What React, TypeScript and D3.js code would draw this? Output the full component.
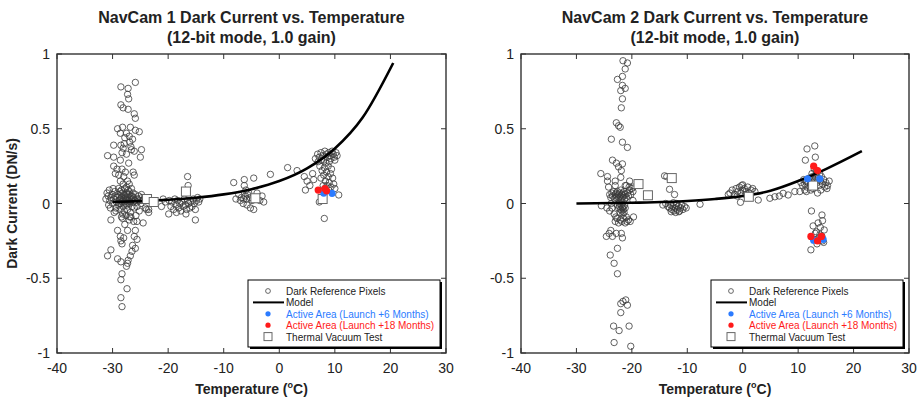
import React from "react";
import * as d3 from "d3";

// ---------- axis ticks ----------
const xTicks = [-40, -30, -20, -10, 0, 10, 20, 30];
const yTicks = [-1, -0.5, 0, 0.5, 1];
const yTickLabels = ["-1", "-0.5", "0", "0.5", "1"];

// ---------- titles ----------
const titles1 = ["NavCam 1 Dark Current vs. Temperature", "(12-bit mode, 1.0 gain)"];
const titles2 = ["NavCam 2 Dark Current vs. Temperature", "(12-bit mode, 1.0 gain)"];
const legendLabels = [
  "Dark Reference Pixels",
  "Model",
  "Active Area (Launch +6 Months)",
  "Active Area (Launch +18 Months)",
  "Thermal Vacuum Test",
];

// ---------- NavCam 1 data [temperature °C, DN/s] ----------
const cam1Dark: [number, number][] = [
  // upper tail near -28
  [-28.5, 0.78], [-25.9, 0.81], [-27.2, 0.77], [-27.3, 0.73], [-27.1, 0.7], [-28.5, 0.66], [-28.1, 0.64], [-27.2, 0.63],
  [-26.1, 0.6], [-25.9, 0.57], [-29.1, 0.5], [-28.2, 0.51], [-26.8, 0.51], [-25.9, 0.49], [-25.2, 0.48], [-28.6, 0.47],
  [-27.5, 0.47], [-27.8, 0.44], [-27.0, 0.45], [-26.4, 0.43], [-29.8, 0.39], [-28.5, 0.39], [-28.1, 0.37], [-26.7, 0.38],
  [-26.1, 0.35], [-24.8, 0.36], [-28.3, 0.34], [-27.5, 0.33], [-30.9, 0.32], [-29.8, 0.31], [-25.0, 0.31], [-28.6, 0.29],
  [-27.1, 0.27], [-29.8, 0.25], [-29.2, 0.23], [-28.3, 0.23], [-29.5, 0.2], [-28.9, 0.19], [-27.7, 0.21], [-26.3, 0.21],
  [-26.1, 0.19], [-28.0, 0.18], [-28.6, 0.15], [-27.3, 0.15], [-28.1, 0.13], [-27.0, 0.13], [-27.5, 0.11], [-26.6, 0.36],
  [-27.9, 0.4], [-26.9, 0.41],
  // dense center near -28
  [-31.0, 0.07], [-30.8, 0.05], [-30.6, 0.09], [-30.5, 0.02], [-30.3, 0.04], [-30.1, 0.06], [-30.0, 0.0], [-29.8, 0.03],
  [-29.6, 0.08], [-29.5, 0.05], [-29.3, 0.01], [-29.2, 0.04], [-29.0, 0.06], [-28.9, -0.01], [-28.8, 0.02], [-28.7, 0.05],
  [-28.6, 0.03], [-28.5, 0.0], [-28.4, 0.04], [-28.3, 0.07], [-28.2, 0.02], [-28.1, -0.02], [-28.0, 0.03], [-27.9, 0.01],
  [-27.8, 0.05], [-27.7, 0.0], [-27.6, 0.03], [-27.5, 0.02], [-27.4, -0.01], [-27.3, 0.04], [-27.2, 0.02], [-27.1, 0.06],
  [-27.0, 0.0], [-26.9, 0.03], [-26.8, 0.01], [-26.7, 0.05], [-26.6, 0.02], [-26.5, -0.02], [-26.4, 0.03], [-26.3, 0.01],
  [-26.2, 0.04], [-26.0, 0.02], [-25.9, 0.06], [-25.7, 0.01], [-25.5, 0.03], [-25.3, 0.05], [-25.1, 0.02], [-24.9, 0.0],
  [-24.7, 0.04], [-24.5, 0.02], [-28.4, 0.09], [-27.8, 0.1], [-27.2, 0.09], [-26.6, 0.1], [-28.9, 0.1], [-28.6, -0.04],
  [-27.9, -0.05], [-27.3, -0.04], [-26.8, -0.06], [-28.2, -0.07], [-29.4, -0.03], [-26.1, -0.03], [-25.6, -0.02], [-28.0, 0.06],
  [-27.5, 0.07], [-27.0, 0.08], [-26.3, 0.07], [-28.7, 0.08], [-29.9, 0.1], [-30.7, -0.01], [-31.2, 0.03], [-29.7, -0.06],
  [-28.4, -0.09], [-27.6, -0.08], [-26.9, -0.09], [-25.8, -0.08], [-24.8, 0.06], [-24.3, 0.03], [-25.2, -0.05], [-23.8, 0.02],
  [-24.1, -0.03], [-23.5, -0.04], [-28.3, 0.01], [-27.7, 0.04], [-27.1, 0.01], [-26.5, 0.05], [-28.8, 0.0], [-27.4, 0.06],
  // lower tail near -28
  [-30.4, -0.03], [-29.4, -0.05], [-30.3, -0.11], [-26.7, -0.09], [-25.6, -0.12], [-24.5, -0.13], [-26.2, -0.12], [-27.0, -0.11],
  [-28.2, -0.1], [-23.9, -0.04], [-23.5, -0.06], [-27.8, -0.14], [-29.1, -0.18], [-27.3, -0.18], [-25.9, -0.18], [-28.6, -0.22],
  [-28.0, -0.23], [-26.1, -0.22], [-25.6, -0.24], [-28.5, -0.25], [-28.3, -0.27], [-26.4, -0.28], [-25.9, -0.3], [-30.3, -0.31],
  [-30.9, -0.35], [-26.5, -0.32], [-26.8, -0.35], [-29.1, -0.37], [-28.5, -0.39], [-27.2, -0.38], [-27.3, -0.4], [-27.5, -0.42],
  [-28.3, -0.47], [-28.5, -0.51], [-27.4, -0.57], [-28.5, -0.63], [-28.3, -0.69],
  // cluster near -17
  [-19.8, 0.02], [-19.5, -0.02], [-19.3, 0.01], [-19.0, -0.04], [-18.8, 0.03], [-18.6, -0.01], [-18.3, 0.02], [-18.1, -0.03],
  [-17.9, 0.0], [-17.7, -0.05], [-17.5, 0.01], [-17.3, -0.02], [-17.1, 0.03], [-16.9, -0.01], [-16.7, -0.04], [-16.5, 0.02],
  [-16.3, 0.0], [-16.1, -0.03], [-15.9, 0.01], [-15.7, -0.02], [-15.5, 0.03], [-15.3, 0.0], [-15.1, -0.04], [-14.9, 0.02],
  [-14.7, 0.04], [-14.5, 0.01], [-14.3, 0.03], [-19.9, -0.07], [-18.5, -0.06], [-16.8, -0.07], [-16.5, 0.18], [-16.4, 0.12],
  [-15.1, -0.11], [-20.5, 0.01], [-21.2, -0.02], [-20.9, 0.03],
  // cluster near -6
  [-8.2, 0.14], [-6.3, 0.16], [-4.6, 0.17], [-6.3, 0.12], [-7.3, 0.06], [-5.5, 0.07], [-4.0, 0.07], [-3.1, 0.05],
  [-2.8, 0.01], [-6.5, 0.0], [-5.2, -0.03], [-4.6, -0.04], [-6.8, 0.04], [-6.1, 0.05], [-5.9, 0.03], [-5.7, 0.06],
  [-6.0, 0.09], [-5.3, 0.04], [-4.9, 0.02], [-6.4, 0.03], [-7.8, 0.03], [-5.8, -0.01], [-1.6, 0.195], [1.5, 0.24],
  [-3.5, 0.02], [-7.0, 0.02],
  // cluster near 8
  [6.5, 0.3], [6.9, 0.33], [7.2, 0.31], [7.5, 0.34], [7.8, 0.32], [8.0, 0.29], [8.2, 0.35], [8.5, 0.33],
  [8.7, 0.31], [8.9, 0.34], [9.1, 0.32], [9.3, 0.3], [9.5, 0.35], [9.7, 0.33], [9.9, 0.31], [10.2, 0.34],
  [10.4, 0.32], [7.0, 0.28], [8.4, 0.27], [9.0, 0.28], [7.6, 0.29], [10.0, 0.29], [7.3, 0.25], [8.1, 0.24],
  [8.8, 0.25], [9.4, 0.23], [7.7, 0.22], [8.5, 0.21], [9.2, 0.2], [8.0, 0.19], [8.8, 0.18], [9.6, 0.17],
  [7.5, 0.17], [8.3, 0.15], [9.0, 0.14], [9.8, 0.13], [8.6, 0.12], [7.9, 0.12], [9.3, 0.11], [8.2, 0.1],
  [10.0, 0.1], [8.9, 0.09], [10.7, 0.057], [8.1, -0.1], [7.2, 0.01], [4.7, 0.09], [5.0, 0.15], [4.5, 0.18],
  [3.2, 0.22], [6.0, 0.2], [6.2, 0.16], [5.5, 0.12],
];
const cam1Model: [number, number][] = [
  [-30, 0.01], [-25, 0.016], [-20, 0.025], [-15, 0.039], [-10, 0.061], [-5, 0.096], [0, 0.15], [5, 0.235], [10, 0.368], [15, 0.575], [20.5, 0.94],
];
const cam1Plus6: [number, number][] = [[8.0, 0.07], [9.5, 0.068]];
const cam1Plus18: [number, number][] = [[7.0, 0.09], [8.2, 0.1], [8.5, 0.085]];
const cam1Tvac: [number, number][] = [[-23.8, 0.03], [-22.6, 0.01], [-16.8, 0.08], [-4.3, 0.035], [7.8, 0.03]];

// ---------- NavCam 2 data ----------
const cam2Dark: [number, number][] = [
  // upper tail near -22
  [-21.6, 0.955], [-20.8, 0.94], [-21.2, 0.9], [-21.7, 0.85], [-22.6, 0.83], [-21.7, 0.79], [-21.2, 0.77], [-22.0, 0.755],
  [-21.7, 0.7], [-21.9, 0.64], [-22.8, 0.54], [-22.4, 0.52], [-22.1, 0.51], [-23.7, 0.43], [-21.7, 0.41], [-20.8, 0.375],
  [-23.5, 0.29], [-22.8, 0.27], [-21.7, 0.265], [-22.4, 0.245], [-21.9, 0.22], [-25.6, 0.2], [-24.4, 0.18], [-24.4, 0.15],
  [-23.0, 0.15], [-22.0, 0.175], [-20.4, 0.15], [-19.8, 0.11], [-21.2, 0.12],
  // center near -22
  [-24.0, 0.06], [-23.8, 0.04], [-23.6, 0.07], [-23.5, 0.05], [-23.3, 0.08], [-23.1, 0.03], [-23.0, 0.06], [-22.9, 0.04],
  [-22.8, 0.07], [-22.7, 0.05], [-22.6, 0.08], [-22.5, 0.03], [-22.4, 0.06], [-22.3, 0.04], [-22.2, 0.07], [-22.1, 0.05],
  [-22.0, 0.09], [-21.9, 0.03], [-21.8, 0.06], [-21.7, 0.04], [-21.6, 0.07], [-21.5, 0.05], [-21.4, 0.08], [-21.3, 0.03],
  [-21.2, 0.06], [-21.0, 0.04], [-20.8, 0.07], [-20.6, 0.05], [-20.4, 0.09], [-20.2, 0.06], [-20.0, 0.1], [-19.8, 0.08],
  [-22.6, -0.01], [-22.4, -0.03], [-22.2, -0.02], [-22.0, -0.04], [-21.9, -0.01], [-21.8, -0.05], [-21.7, -0.03], [-21.6, -0.02],
  [-21.5, -0.04], [-21.4, -0.06], [-21.3, -0.01], [-21.2, -0.03], [-22.1, -0.06], [-21.6, -0.07], [-21.9, 0.01], [-22.3, 0.0],
  [-25.5, -0.015], [-24.5, -0.03], [-24.0, -0.05], [-23.6, -0.03], [-23.2, -0.07], [-23.7, 0.0], [-24.2, 0.11], [-23.0, 0.12],
  [-21.0, 0.12], [-20.5, 0.11], [-19.8, 0.02],
  [-23.0, -0.12], [-22.7, -0.1], [-22.4, -0.13], [-22.1, -0.11], [-21.8, -0.12], [-21.5, -0.1], [-21.2, -0.13], [-20.9, -0.12],
  [-20.6, -0.11], [-20.3, -0.12], [-19.7, -0.09], [-22.9, -0.09], [-21.0, -0.09],
  // lower tail near -22
  [-24.6, -0.22], [-23.8, -0.18], [-24.1, -0.2], [-22.8, -0.2], [-21.9, -0.2], [-21.7, -0.23], [-23.5, -0.22], [-22.6, -0.3],
  [-23.9, -0.345], [-23.2, -0.4], [-22.6, -0.47], [-21.1, -0.645], [-21.6, -0.655], [-22.0, -0.67], [-20.8, -0.68], [-22.0, -0.73],
  [-23.3, -0.82], [-20.5, -0.82], [-22.3, -0.85], [-23.2, -0.93], [-20.2, -0.955],
  // cluster near -12
  [-14.1, 0.185], [-13.2, 0.095], [-12.3, 0.06], [-13.7, 0.18],
  [-14.4, -0.01], [-13.9, 0.0], [-13.5, -0.02], [-13.2, -0.03], [-13.0, -0.01], [-12.8, -0.04], [-12.6, -0.02], [-12.4, -0.05],
  [-12.2, -0.03], [-12.0, -0.01], [-11.8, -0.04], [-11.6, -0.02], [-11.4, -0.05], [-11.2, -0.03], [-11.0, -0.01], [-10.8, -0.04],
  [-10.5, -0.02], [-10.2, -0.03], [-12.9, -0.055], [-12.1, -0.06], [-11.5, -0.055], [-11.9, 0.0], [-12.5, 0.005],
  // cluster near 0
  [-7.7, -0.005], [-0.4, 0.008], [2.8, 0.023], [0.0, 0.125], [-2.3, 0.07], [-1.9, 0.09], [-1.5, 0.06], [-1.2, 0.1],
  [-0.9, 0.08], [-0.6, 0.11], [-0.3, 0.07], [0.0, 0.09], [0.3, 0.1], [0.6, 0.08], [0.9, 0.11], [1.2, 0.07],
  [1.5, 0.09], [1.8, 0.1], [2.2, 0.08], [-1.0, 0.05], [0.5, 0.06], [-0.2, 0.12], [-2.6, 0.06],
  [5.8, 0.045], [7.3, 0.068], [8.2, 0.057], [9.4, 0.08], [10.3, 0.08], [11.2, 0.09], [6.6, 0.05], [4.9, 0.035],
  // cluster near 13 (upper)
  [11.6, 0.365], [13.0, 0.385], [13.1, 0.31], [11.3, 0.29],
  [10.5, 0.14], [10.8, 0.12], [11.0, 0.16], [11.2, 0.13], [11.4, 0.15], [11.6, 0.11], [11.8, 0.14], [12.0, 0.17],
  [12.2, 0.12], [12.4, 0.15], [12.6, 0.18], [12.8, 0.13], [13.0, 0.16], [13.2, 0.19], [13.4, 0.14], [13.6, 0.17],
  [13.8, 0.12], [14.0, 0.15], [14.2, 0.18], [14.4, 0.13], [14.6, 0.16], [14.8, 0.11], [15.0, 0.14], [15.3, 0.12],
  [15.6, 0.15], [12.5, 0.2], [13.3, 0.22], [12.9, 0.23], [14.1, 0.09], [13.5, 0.07], [12.3, 0.09], [11.5, 0.08],
  [15.2, 0.1], [12.7, 0.1], [13.9, 0.2],
  // cluster near 13 (lower)
  [12.4, -0.05], [14.3, -0.077], [14.4, -0.115], [12.7, -0.15], [14.0, -0.16], [14.7, -0.177], [13.3, -0.19], [14.3, -0.22],
  [12.3, -0.31], [12.9, -0.24], [14.4, -0.25], [13.6, -0.13], [13.9, -0.21], [13.1, -0.2], [14.6, -0.26], [13.4, -0.27],
];
const cam2Model: [number, number][] = [
  [-30, 0.0], [-20, 0.005], [-10, 0.017], [-5, 0.03], [0, 0.05], [5, 0.085], [10, 0.15], [15, 0.23], [21.5, 0.35],
];
const cam2Plus6: [number, number][] = [[11.7, 0.165], [13.9, 0.165], [12.8, -0.245], [14.5, -0.24]];
const cam2Plus18: [number, number][] = [[12.8, 0.25], [13.5, 0.22], [12.3, -0.22], [14.2, -0.22], [13.5, -0.25]];
const cam2Tvac: [number, number][] = [[-18.8, 0.13], [-17.1, 0.055], [-12.8, 0.17], [1.1, 0.045], [12.7, 0.12]];

const FONT = "Arial, 'Liberation Sans', Helvetica, sans-serif";
const BLUE = "#2b7bff";
const RED = "#ff1a1a";

type Panel = {
  left: number;
  right: number;
  titles: string[];
  dark: [number, number][];
  model: [number, number][];
  plus6: [number, number][];
  plus18: [number, number][];
  tvac: [number, number][];
  yLabel: boolean;
};

const TOP = 54;
const BOTTOM = 353;

function PanelView({ p }: { p: Panel }) {
  const x = d3.scaleLinear().domain([-40, 30]).range([p.left, p.right]);
  const y = d3.scaleLinear().domain([-1, 1]).range([BOTTOM, TOP]);
  const line = d3
    .line<[number, number]>()
    .x((d) => x(d[0]))
    .y((d) => y(d[1]))
    .curve(d3.curveMonotoneX);
  const cx = (p.left + p.right) / 2;
  const tick = 5;
  const lgX = p.right - 198;
  const lgY = 280;
  const lgW = 192;
  const lgH = 67;
  const rowY = (i: number) => lgY + 11 + i * 11.4;
  const sq = 9;
  return (
    <g>
      {/* titles */}
      <text x={cx} y={23} textAnchor="middle" fontFamily={FONT} fontWeight="bold" fontSize={16} fill="#222">
        {p.titles[0]}
      </text>
      <text x={cx} y={43} textAnchor="middle" fontFamily={FONT} fontWeight="bold" fontSize={16} fill="#222">
        {p.titles[1]}
      </text>
      {/* dark pixel circles */}
      <g fill="none" stroke="#3a3a3a" strokeWidth={0.8}>
        {p.dark.map((d, i) => (
          <circle key={i} cx={x(d[0])} cy={y(d[1])} r={3.2} />
        ))}
      </g>
      {/* model */}
      <path d={line(p.model) || ""} fill="none" stroke="#000" strokeWidth={2.6} />
      {/* thermal vac */}
      <g fill="#fff" stroke="#666" strokeWidth={1}>
        {p.tvac.map((d, i) => (
          <rect key={i} x={x(d[0]) - sq / 2} y={y(d[1]) - sq / 2} width={sq} height={sq} />
        ))}
      </g>
      {/* active area */}
      {p.plus6.map((d, i) => (
        <circle key={"b" + i} cx={x(d[0])} cy={y(d[1])} r={3.6} fill={BLUE} />
      ))}
      {p.plus18.map((d, i) => (
        <circle key={"r" + i} cx={x(d[0])} cy={y(d[1])} r={3.6} fill={RED} />
      ))}
      {/* frame */}
      <rect x={p.left} y={TOP} width={p.right - p.left} height={BOTTOM - TOP} fill="none" stroke="#333" strokeWidth={1.4} />
      {/* ticks */}
      <g stroke="#333" strokeWidth={1}>
        {xTicks.map((t) => (
          <g key={"xt" + t}>
            <line x1={x(t)} x2={x(t)} y1={BOTTOM} y2={BOTTOM - tick} />
            <line x1={x(t)} x2={x(t)} y1={TOP} y2={TOP + tick} />
          </g>
        ))}
        {yTicks.map((t) => (
          <g key={"yt" + t}>
            <line x1={p.left} x2={p.left + tick} y1={y(t)} y2={y(t)} />
            <line x1={p.right} x2={p.right - tick} y1={y(t)} y2={y(t)} />
          </g>
        ))}
      </g>
      {/* tick labels */}
      {xTicks.map((t) => (
        <text key={"xl" + t} x={x(t)} y={373} textAnchor="middle" fontFamily={FONT} fontSize={14} fill="#222">
          {t}
        </text>
      ))}
      {yTicks.map((t, i) => (
        <text key={"yl" + t} x={p.left - 7} y={y(t) + 5} textAnchor="end" fontFamily={FONT} fontSize={14} fill="#222">
          {yTickLabels[i]}
        </text>
      ))}
      {/* axis titles */}
      <text x={cx} y={394} textAnchor="middle" fontFamily={FONT} fontWeight="bold" fontSize={14} fill="#222">
        Temperature (
        <tspan fontSize={9} dy={-6}>o</tspan>
        <tspan dy={6}>C)</tspan>
      </text>
      {p.yLabel && (
        <text
          transform={`translate(${p.left - 40},${(TOP + BOTTOM) / 2}) rotate(-90)`}
          textAnchor="middle"
          fontFamily={FONT}
          fontWeight="bold"
          fontSize={14}
          fill="#222"
        >
          Dark Current (DN/s)
        </text>
      )}
      {/* legend */}
      <rect x={lgX + 2} y={lgY + 2} width={lgW} height={lgH} fill="#000" />
      <rect x={lgX} y={lgY} width={lgW} height={lgH} fill="#fff" stroke="#000" strokeWidth={1} />
      <circle cx={lgX + 20} cy={rowY(0)} r={2.4} fill="none" stroke="#444" strokeWidth={0.8} />
      <line x1={lgX + 5} x2={lgX + 36} y1={rowY(1)} y2={rowY(1)} stroke="#000" strokeWidth={2} />
      <circle cx={lgX + 20} cy={rowY(2)} r={2.6} fill={BLUE} />
      <circle cx={lgX + 20} cy={rowY(3)} r={2.6} fill={RED} />
      <rect x={lgX + 16} y={rowY(4) - 4} width={8} height={8} fill="#fff" stroke="#666" strokeWidth={1} />
      {legendLabels.map((l, i) => (
        <text
          key={l}
          x={lgX + 38}
          y={rowY(i) + 4}
          fontFamily={FONT}
          fontSize={10}
          fill={i === 2 ? BLUE : i === 3 ? RED : "#222"}
        >
          {l}
        </text>
      ))}
    </g>
  );
}

export default function App() {
  const panels: Panel[] = [
    { left: 57, right: 446, titles: titles1, dark: cam1Dark, model: cam1Model, plus6: cam1Plus6, plus18: cam1Plus18, tvac: cam1Tvac, yLabel: true },
    { left: 521, right: 909, titles: titles2, dark: cam2Dark, model: cam2Model, plus6: cam2Plus6, plus18: cam2Plus18, tvac: cam2Tvac, yLabel: false },
  ];
  return (
    <svg width={922} height={399} style={{ position: "absolute", left: 0, top: 0, background: "#fff" }}>
      <rect width={922} height={399} fill="#fff" />
      {panels.map((p, i) => (
        <PanelView key={i} p={p} />
      ))}
    </svg>
  );
}
